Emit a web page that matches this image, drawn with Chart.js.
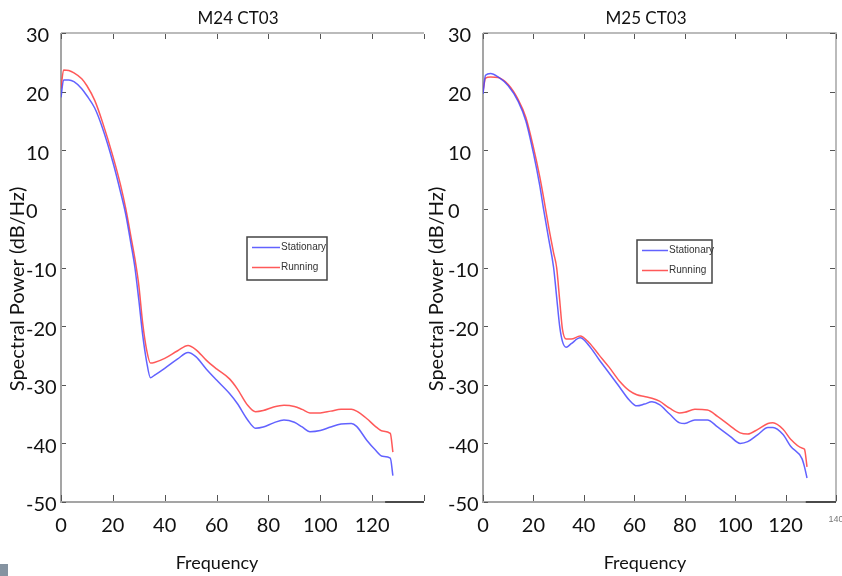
<!DOCTYPE html>
<html>
<head>
<meta charset="utf-8">
<title>Spectral power – M24 / M25 CT03</title>
<script src="https://cdn.jsdelivr.net/npm/chart.js@4.4.1/dist/chart.umd.min.js"></script>
<style>
  html, body { margin: 0; padding: 0; background: #fff; }
  #wrap { position: relative; width: 842px; height: 576px; overflow: hidden; }
  #wrap canvas { position: absolute; left: 0; top: 0; }
  .corner { position: absolute; left: 0; top: 564px; width: 8px; height: 12px; background: #8593a1; }
</style>
</head>
<body>
<div id="wrap">
  <canvas id="m24" width="842" height="576"></canvas>
  <canvas id="m25" width="842" height="576"></canvas>
  <div class="corner"></div>
</div>
<script>
// sample frequencies (Hz) and power (dB/Hz) per recording
const m24Freq = [0, 1, 3, 5, 8, 10, 13, 16, 20, 23, 25, 27, 28.5, 30, 31.5, 33, 34.5, 36, 40, 45, 49, 52, 56, 60,
  65, 68, 72, 75, 78, 82, 86, 90, 93, 96, 100, 104, 108, 112, 114, 118, 121, 124, 127, 128];
const m24Stationary = [19, 22, 22, 21.7, 20.5, 19.3, 17.2, 13.8, 8, 2.8, -1, -6, -10, -15.5, -21.5, -26, -28.8, -28.4,
  -27.2, -25.6, -24.5, -25.2, -27.3, -29.2, -31.5, -33.2, -36, -37.4, -37.2, -36.5, -36, -36.4, -37.2, -38, -37.8,
  -37.2, -36.7, -36.6, -37.1, -39.5, -41, -42.2, -42.5, -45.5];
const m24Running = [20.5, 23.7, 23.6, 23.2, 22.2, 21, 18.5, 14.8, 9, 4, 0, -4.8, -8.5, -13, -19.5, -24, -26.3, -26.2,
  -25.5, -24.2, -23.3, -24, -25.8, -27.3, -29, -30.7, -33.5, -34.6, -34.4, -33.8, -33.5, -33.7, -34.2, -34.8, -34.8,
  -34.5, -34.2, -34.2, -34.5, -35.8, -37, -37.9, -38.3, -41.5];

const m25Freq = [0, 1, 3, 6, 10, 14, 17, 20, 22.5, 24, 26, 28, 29.2, 30.4, 31.5, 33, 35, 38.5, 42, 46, 50, 54, 58, 61,
  64, 67, 70, 74, 78, 80, 84, 89, 93, 98, 102, 105, 109, 113, 115, 119, 122, 126.5, 127.5, 128.5];
const m25Stationary = [19.6, 22.8, 23.1, 22.5, 21, 18.3, 15, 9.5, 4, 0, -5, -10, -15, -20, -22.6, -23.6, -23, -22,
  -23.3, -25.7, -28, -30.3, -32.6, -33.6, -33.3, -32.9, -33.4, -35, -36.5, -36.6, -36, -36, -37.2, -38.8, -40, -39.7,
  -38.5, -37.3, -37.3, -38.5, -40.5, -42.6, -44, -45.9];
const m25Running = [20, 22.3, 22.5, 22.4, 21.2, 18.6, 15.6, 10.5, 5.5, 2, -3, -7.5, -10, -15.5, -20.5, -22.2, -22.2,
  -21.7, -22.8, -24.9, -27, -29.3, -31, -31.7, -32, -32.3, -32.8, -34, -34.8, -34.7, -34.2, -34.3, -35.4, -37, -38.2,
  -38.4, -37.6, -36.6, -36.5, -37.6, -39.3, -40.8, -41, -44];

const freqTicks = [0, 20, 40, 60, 80, 100, 120, 140];
const powerTicks = [30, 20, 10, 0, -10, -20, -30, -40, -50];
const seriesNames = ["Stationary", "Running"];

const LABEL_FONT = "Lato, 'Open Sans', sans-serif";
const NARROW_FONT = "'Liberation Sans Narrow', 'Arial Narrow', sans-serif";

// matlab-ish box: grey axes, inward ticks, inset legend and the panel texts
const matlabBox = {
  id: "matlabBox",
  beforeDatasetsDraw(chart, args, opts) {
    const { ctx, chartArea: a, scales } = chart;
    const x = scales.x, y = scales.y;
    ctx.save();

    ctx.strokeStyle = "#a5a5a5";
    ctx.lineWidth = 2;
    ctx.beginPath();
    ctx.moveTo(a.left, a.top);
    ctx.lineTo(a.left, a.bottom);
    ctx.lineTo(a.right, a.bottom);
    ctx.stroke();

    ctx.lineWidth = 1.5;
    ctx.beginPath();
    ctx.moveTo(a.left, a.top);
    ctx.lineTo(a.right, a.top);
    if (opts.rightEdge) ctx.lineTo(a.right, a.bottom);
    ctx.stroke();

    // darker stub at the end of the frequency axis
    ctx.strokeStyle = "#4a4a4a";
    ctx.lineWidth = 2;
    ctx.beginPath();
    ctx.moveTo(x.getPixelForValue(opts.stubFrom), a.bottom);
    ctx.lineTo(a.right, a.bottom);
    ctx.stroke();

    ctx.strokeStyle = "#555";
    ctx.lineWidth = 1;
    ctx.beginPath();
    x.ticks.forEach((t) => {
      const px = Math.round(x.getPixelForValue(t.value)) + 0.5;
      ctx.moveTo(px, a.bottom - 1);
      ctx.lineTo(px, a.bottom - 7);
      ctx.moveTo(px, a.top + 1);
      ctx.lineTo(px, a.top + 6);
    });
    y.ticks.forEach((t) => {
      const py = Math.round(y.getPixelForValue(t.value)) + 0.5;
      ctx.moveTo(a.left + 1, py);
      ctx.lineTo(a.left + 5, py);
      if (opts.rightEdge) {
        ctx.moveTo(a.right - 1, py);
        ctx.lineTo(a.right - 6, py);
      }
    });
    ctx.stroke();
    ctx.restore();
  },
  afterDatasetsDraw(chart, args, opts) {
    const { ctx } = chart;
    const lg = opts.legend;
    ctx.save();

    ctx.fillStyle = "#fff";
    ctx.fillRect(lg.x, lg.y, lg.w, lg.h);
    ctx.strokeStyle = "#444";
    ctx.lineWidth = 1.5;
    ctx.strokeRect(lg.x, lg.y, lg.w, lg.h);

    ctx.font = "10px " + NARROW_FONT;
    ctx.textBaseline = "middle";
    ctx.textAlign = "left";
    chart.data.datasets.forEach((ds, i) => {
      const ly = lg.y + 10.5 + i * 20;
      ctx.strokeStyle = ds.borderColor;
      ctx.lineWidth = 1.5;
      ctx.beginPath();
      ctx.moveTo(lg.x + 5, ly);
      ctx.lineTo(lg.x + 5 + lg.line, ly);
      ctx.stroke();
      ctx.fillStyle = "#333";
      ctx.fillText(ds.label, lg.x + 6 + lg.line, ly);
    });

    ctx.fillStyle = "#111";
    ctx.textAlign = "center";
    ctx.textBaseline = "middle";
    ctx.font = "17px " + LABEL_FONT;
    ctx.fillText(opts.title, opts.titleX, 19);

    ctx.font = "18px " + LABEL_FONT;
    ctx.fillText("Frequency", opts.xTitleX, 563);

    ctx.font = "20px " + LABEL_FONT;
    ctx.translate(opts.yTitleX, 289);
    ctx.rotate(-Math.PI / 2);
    ctx.fillText("Spectral Power (dB/Hz)", 0, 0);
    ctx.restore();
  },
};

function makePanel(id, freq, stationary, running, panel) {
  const toPoints = (vals) => freq.map((f, i) => ({ x: f, y: vals[i] }));

  return new Chart(document.getElementById(id), {
    type: "line",
    data: {
      datasets: [
        {
          label: seriesNames[0],
          data: toPoints(stationary),
          borderColor: "rgba(70, 70, 255, 0.85)",
          borderWidth: 1.5,
          pointRadius: 0,
          cubicInterpolationMode: "monotone",
        },
        {
          label: seriesNames[1],
          data: toPoints(running),
          borderColor: "rgba(255, 60, 60, 0.85)",
          borderWidth: 1.5,
          pointRadius: 0,
          cubicInterpolationMode: "monotone",
        },
      ],
    },
    options: {
      responsive: false,
      animation: false,
      events: [],
      layout: {
        padding: { left: panel.padLeft, right: panel.padRight, top: 33, bottom: 24 },
      },
      scales: {
        x: {
          type: "linear",
          min: freqTicks[0],
          max: freqTicks[freqTicks.length - 1],
          afterBuildTicks: (s) => {
            s.ticks = freqTicks.map((v) => ({ value: v }));
          },
          afterFit: (s) => {
            s.height = 50;
            // keep the plot box where the layout padding puts it
            s.paddingLeft = 0;
            s.paddingRight = 0;
          },
          grid: { display: false, drawTicks: false },
          border: { display: false },
          ticks: {
            autoSkip: false,
            maxRotation: 0,
            padding: 12,
            callback: (v) => (v === 140 ? (panel.showEnd ? "140" : "") : String(v)),
            color: (c) => (c.tick && c.tick.value === 140 ? "#777" : "#111"),
            font: (c) =>
              c.tick && c.tick.value === 140
                ? { family: NARROW_FONT, size: 9 }
                : { family: LABEL_FONT, size: 20 },
          },
        },
        y: {
          min: powerTicks[powerTicks.length - 1],
          max: powerTicks[0],
          afterBuildTicks: (s) => {
            s.ticks = powerTicks.map((v) => ({ value: v }));
          },
          afterFit: (s) => {
            s.width = 35;
            s.paddingTop = 0;
            s.paddingBottom = 0;
          },
          grid: { display: false, drawTicks: false },
          border: { display: false },
          ticks: {
            crossAlign: "far",
            labelOffset: 3,
            color: "#111",
            font: { family: LABEL_FONT, size: 20 },
          },
        },
      },
      plugins: {
        legend: { display: false },
        tooltip: { enabled: false },
        matlabBox: panel.box,
      },
    },
    plugins: [matlabBox],
  });
}

makePanel("m24", m24Freq, m24Stationary, m24Running, {
  padLeft: 26,
  padRight: 418,
  showEnd: false,
  box: {
    rightEdge: false,
    stubFrom: 125,
    title: "M24 CT03",
    titleX: 238,
    xTitleX: 217,
    yTitleX: 18,
    legend: { x: 247, y: 237, w: 80, h: 43, line: 28 },
  },
});

makePanel("m25", m25Freq, m25Stationary, m25Running, {
  padLeft: 448,
  padRight: 6,
  showEnd: true,
  box: {
    rightEdge: true,
    stubFrom: 128,
    title: "M25 CT03",
    titleX: 646,
    xTitleX: 645,
    yTitleX: 437,
    legend: { x: 637, y: 240, w: 75, h: 43, line: 26 },
  },
});
</script>
</body>
</html>
